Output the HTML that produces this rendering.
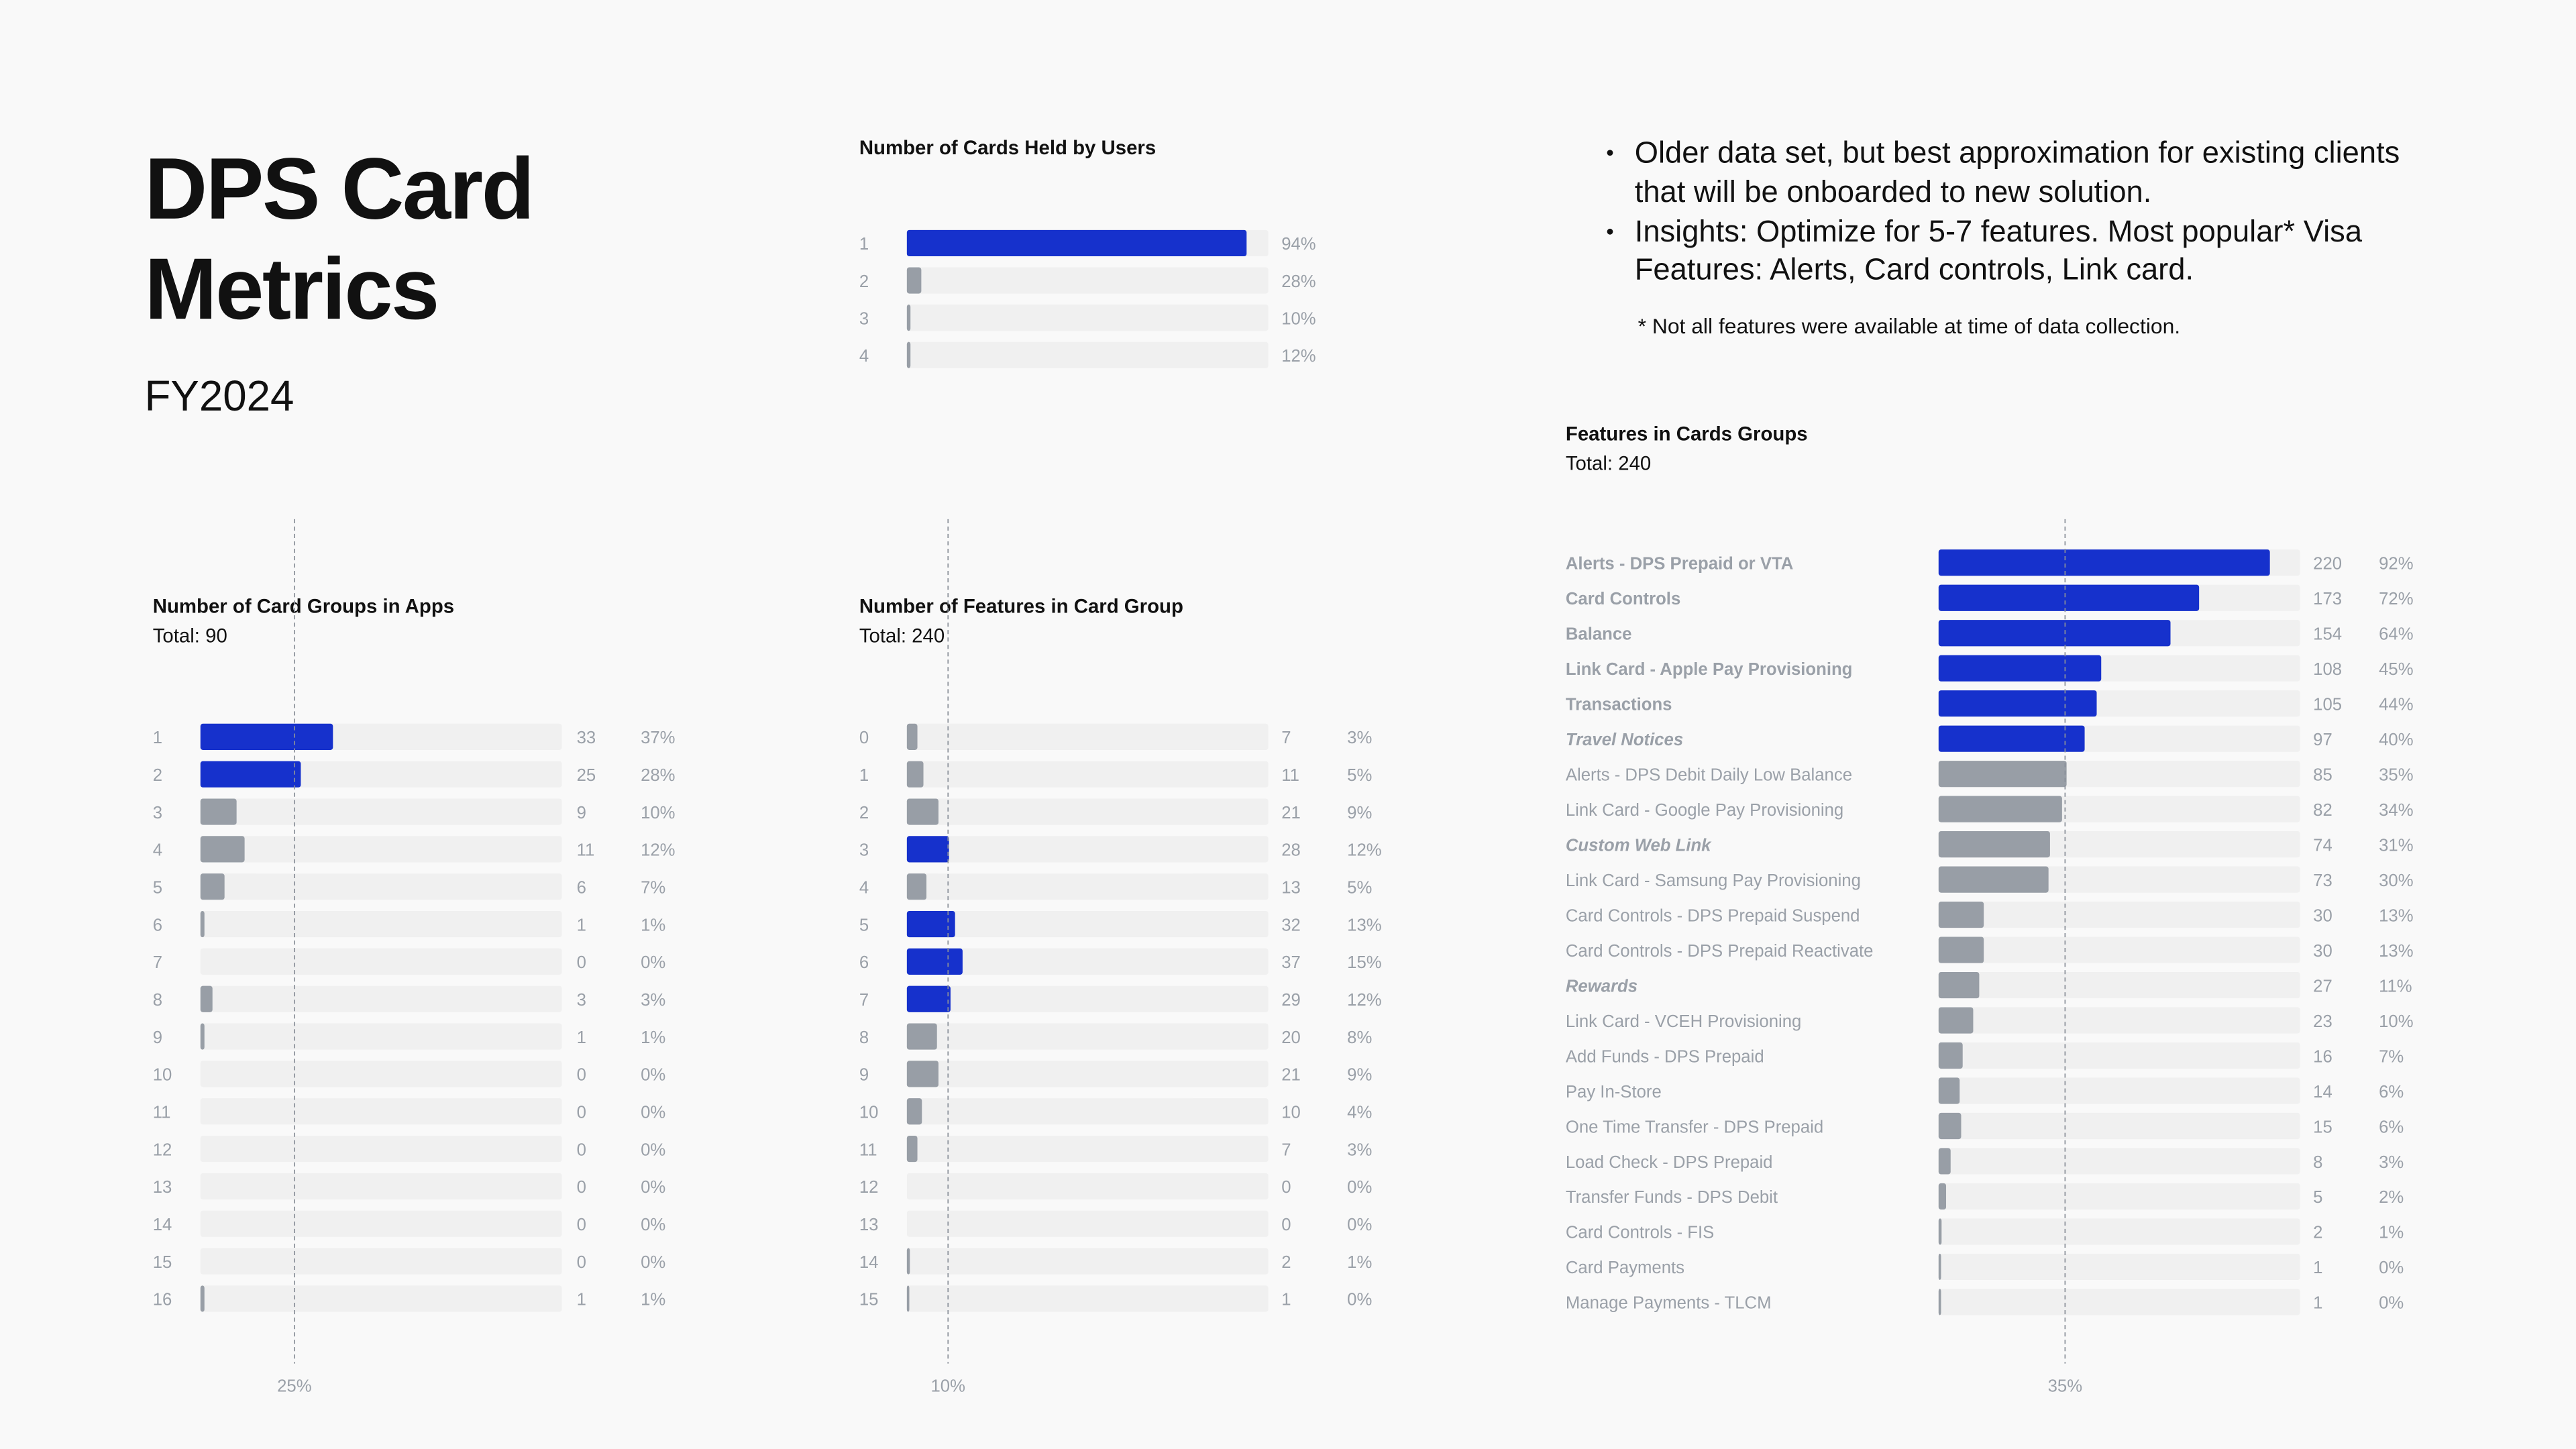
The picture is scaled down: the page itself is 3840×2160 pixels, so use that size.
<!DOCTYPE html>
<html><head><meta charset="utf-8"><style>
html,body{margin:0;padding:0;background:#f9f9f9;}
svg{display:block;font-family:"Liberation Sans",sans-serif;}
</style></head><body>
<svg id="s" width="3840" height="2160" viewBox="0 0 1568 882" xmlns="http://www.w3.org/2000/svg">
<rect width="1568" height="882" fill="#f9f9f9"/>
<text x="88" y="133" font-size="53" font-weight="bold" fill="#111" letter-spacing="-1">DPS Card</text>
<text x="88" y="194" font-size="53" font-weight="bold" fill="#111" letter-spacing="-1">Metrics</text>
<text x="88" y="250" font-size="26" fill="#111">FY2024</text>
<g font-size="18.5" fill="#111">
<circle cx="980" cy="93" r="1.8" fill="#111"/>
<text x="995" y="99">Older data set, but best approximation for existing clients</text>
<text x="995" y="123">that will be onboarded to new solution.</text>
<circle cx="980" cy="141" r="1.8" fill="#111"/>
<text x="995" y="147">Insights: Optimize for 5-7 features. Most popular* Visa</text>
<text x="995" y="170">Features: Alerts, Card controls, Link card.</text>
<text x="997" y="203" font-size="13">* Not all features were available at time of data collection.</text>
</g>
<g id="charts"></g>
</svg>
<script>
// Chart 1: Number of Cards Held by Users
const heldCats = ["1","2","3","4"];
const heldBarFrac = [0.94, 0.04, 0.01, 0.01];
const heldPct = ["94%","28%","10%","12%"];
const heldHi = [true,false,false,false];
// Chart 2: Number of Card Groups in Apps
const appCats = ["1","2","3","4","5","6","7","8","9","10","11","12","13","14","15","16"];
const appCounts = [33,25,9,11,6,1,0,3,1,0,0,0,0,0,0,1];
const appPct = ["37%","28%","10%","12%","7%","1%","0%","3%","1%","0%","0%","0%","0%","0%","0%","1%"];
const appHi = [true,true,false,false,false,false,false,false,false,false,false,false,false,false,false,false];
const appTotal = 90;
// Chart 3: Number of Features in Card Group
const fgCats = ["0","1","2","3","4","5","6","7","8","9","10","11","12","13","14","15"];
const fgCounts = [7,11,21,28,13,32,37,29,20,21,10,7,0,0,2,1];
const fgPct = ["3%","5%","9%","12%","5%","13%","15%","12%","8%","9%","4%","3%","0%","0%","1%","0%"];
const fgHi = [false,false,false,true,false,true,true,true,false,false,false,false,false,false,false,false];
const fgTotal = 240;
// Chart 4: Features in Cards Groups
const featCats = ["Alerts - DPS Prepaid or VTA","Card Controls","Balance","Link Card - Apple Pay Provisioning","Transactions","Travel Notices","Alerts - DPS Debit Daily Low Balance","Link Card - Google Pay Provisioning","Custom Web Link","Link Card - Samsung Pay Provisioning","Card Controls - DPS Prepaid Suspend","Card Controls - DPS Prepaid Reactivate","Rewards","Link Card - VCEH Provisioning","Add Funds - DPS Prepaid","Pay In-Store","One Time Transfer - DPS Prepaid","Load Check - DPS Prepaid","Transfer Funds - DPS Debit","Card Controls - FIS","Card Payments","Manage Payments - TLCM"];
const featCounts = [220,173,154,108,105,97,85,82,74,73,30,30,27,23,16,14,15,8,5,2,1,1];
const featPct = ["92%","72%","64%","45%","44%","40%","35%","34%","31%","30%","13%","13%","11%","10%","7%","6%","6%","3%","2%","1%","0%","0%"];
const featHi = [true,true,true,true,true,true,false,false,false,false,false,false,false,false,false,false,false,false,false,false,false,false];
const featStyle = ["b","b","b","b","b","bi","n","n","bi","n","n","n","bi","n","n","n","n","n","n","n","n","n"];
const featTotal = 240;

const NS="http://www.w3.org/2000/svg";
const root=document.getElementById('charts');
function mk(tag,attrs,parent,text){const e=document.createElementNS(NS,tag);for(const k in attrs)e.setAttribute(k,attrs[k]);if(text!==undefined)e.textContent=text;parent.appendChild(e);return e;}
const BLUE="#1631cc",GRAY="#989ea6",TRACK="#f0f0f0",LBL="#9aa0a8";

function chart(o){
  const g=mk('g',{},root);
  
  
  const t=mk('text',{x:o.tx,y:o.ty,'font-size':12,'font-weight':'bold',fill:'#111'},g,o.title);
  
  
  if(o.total){const tt=mk('text',{x:o.tx,y:o.ty+18,'font-size':12,fill:'#111'},g,o.total);
    
    }
  const x=f=>o.x0+f*o.w;
  const y=i=>o.y0+i*o.step;
  o.cats.forEach((c,i)=>{
    const row=mk('g',{},g);
    
    
    const st=o.styles?o.styles[i]:'n';
    const lab=mk('text',{x:o.lx,y:y(i)+4,'font-size':10.5,fill:LBL,'font-weight':st!=='n'?'bold':'normal','font-style':st==='bi'?'italic':'normal'},row,c);
    
    
    const tr=mk('rect',{x:o.x0,y:y(i)-8,width:o.w,height:16,fill:TRACK,rx:1.5},row);
    
    
    const f=o.frac[i];
    if(f>0){const b=mk('rect',{x:o.x0,y:y(i)-8,width:Math.max(x(f)-o.x0,1.5),height:16,fill:o.hi[i]?BLUE:GRAY,rx:1.5},row);
      
      }
    if(o.counts){const v=mk('text',{x:o.cx,y:y(i)+4,'font-size':10.5,fill:LBL},row,String(o.counts[i]));
      
      }
    const p=mk('text',{x:o.px,y:y(i)+4,'font-size':10.5,fill:LBL},row,o.pct[i]);
    
    
  });
  if(o.ref!==undefined){
    const rx=x(o.ref);
    const l=mk('line',{x1:rx,x2:rx,y1:316,y2:830,stroke:'#8a9099','stroke-width':0.7,'stroke-dasharray':'2.5,2'},g);
    
    
    const rl=mk('text',{x:rx,y:847,'font-size':10.5,fill:LBL,'text-anchor':'middle'},g,o.refLabel);
    
    
  }
}
chart({name:'cards-held-chart',title:'Number of Cards Held by Users',tx:523,ty:94,cats:heldCats,frac:heldBarFrac,pct:heldPct,hi:heldHi,lx:523,x0:552,w:220,px:780,y0:148,step:22.7});
chart({name:'card-groups-in-apps-chart',title:'Number of Card Groups in Apps',total:'Total: 90',tx:93,ty:373,cats:appCats,frac:appCounts.map(v=>v/appTotal),counts:appCounts,pct:appPct,hi:appHi,lx:93,x0:122,w:220,cx:351,px:390,y0:448.5,step:22.8,ref:0.26,refLabel:'25%'});
chart({name:'features-in-card-group-chart',title:'Number of Features in Card Group',total:'Total: 240',tx:523,ty:373,cats:fgCats,frac:fgCounts.map(v=>v/fgTotal),counts:fgCounts,pct:fgPct,hi:fgHi,lx:523,x0:552,w:220,cx:780,px:820,y0:448.5,step:22.8,ref:0.114,refLabel:'10%'});
chart({name:'features-in-cards-groups-chart',title:'Features in Cards Groups',total:'Total: 240',tx:953,ty:268,cats:featCats,frac:featCounts.map(v=>v/featTotal),counts:featCounts,pct:featPct,hi:featHi,styles:featStyle,lx:953,x0:1180,w:220,cx:1408,px:1448,y0:342.5,step:21.43,ref:0.35,refLabel:'35%'});
</script>
</body></html>
